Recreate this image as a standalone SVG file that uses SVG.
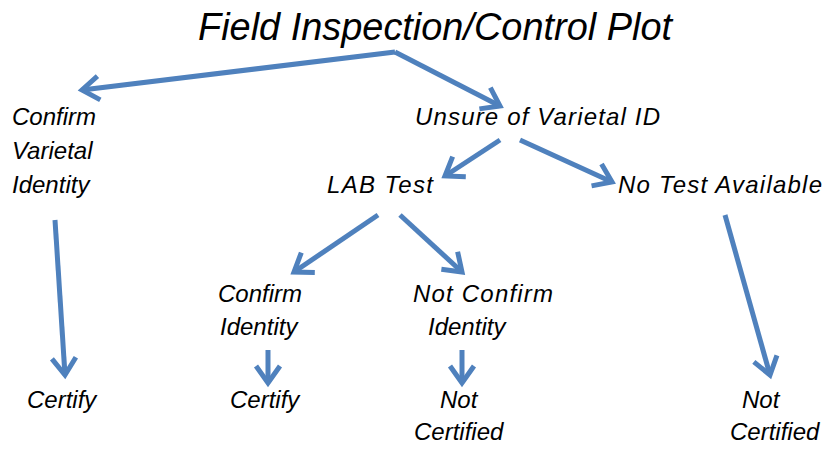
<svg xmlns="http://www.w3.org/2000/svg" width="828" height="449" viewBox="0 0 828 449">
<style>
text{font-family:"Liberation Sans",Arial,sans-serif;font-style:italic;font-size:24px;fill:#000}
.title{font-size:38px}
.c{fill:none;stroke:#4F81BD;stroke-width:5;stroke-linejoin:miter}
</style>
<defs>
<marker id="ah" markerUnits="userSpaceOnUse" markerWidth="40" markerHeight="40" viewBox="-25 -20 30 40" refX="0" refY="0" orient="auto" overflow="visible">
<path d="M-17,-12 L0,0 L-17,12" fill="none" stroke="#4F81BD" stroke-width="5" stroke-linecap="butt"/>
</marker>
</defs>
<rect width="828" height="449" fill="#fff"/>
<g id="connectors">
<path class="c" d="M395,52 L82,90" marker-end="url(#ah)"/>
<path class="c" d="M395,52 L500,106" marker-end="url(#ah)"/>
<path class="c" d="M500,140 L445,176" marker-end="url(#ah)"/>
<path class="c" d="M520,140 L612,182" marker-end="url(#ah)"/>
<path class="c" d="M378,215 L294,272" marker-end="url(#ah)"/>
<path class="c" d="M400,215 L462,272" marker-end="url(#ah)"/>
<path class="c" d="M55,220 L65,375" marker-end="url(#ah)"/>
<path class="c" d="M268,350 L268,383" marker-end="url(#ah)"/>
<path class="c" d="M462,350 L462,383" marker-end="url(#ah)"/>
<path class="c" d="M725,215 L770,375" marker-end="url(#ah)"/>
</g>
<g id="title"><text class="title" x="198" y="40" textLength="474" lengthAdjust="spacingAndGlyphs">Field Inspection/Control Plot</text></g>
<g id="confirm-varietal">
<text x="12" y="125">Confirm</text>
<text x="12" y="159">Varietal</text>
<text x="12" y="193">Identity</text>
</g>
<g id="unsure"><text x="415" y="125" textLength="245" lengthAdjust="spacing">Unsure of Varietal ID</text></g>
<g id="lab-test"><text x="327" y="193" textLength="106" lengthAdjust="spacing">LAB Test</text></g>
<g id="no-test"><text x="618" y="193" textLength="204" lengthAdjust="spacing">No Test Available</text></g>
<g id="confirm-identity">
<text x="218" y="302">Confirm</text>
<text x="220" y="335">Identity</text>
</g>
<g id="not-confirm">
<text x="413" y="302" textLength="140" lengthAdjust="spacing">Not Confirm</text>
<text x="428" y="335">Identity</text>
</g>
<g id="certify-left"><text x="27" y="408">Certify</text></g>
<g id="certify-mid"><text x="230" y="408">Certify</text></g>
<g id="not-certified-mid">
<text x="440" y="408">Not</text>
<text x="414" y="440">Certified</text>
</g>
<g id="not-certified-right">
<text x="742" y="408">Not</text>
<text x="730" y="440">Certified</text>
</g>
</svg>
